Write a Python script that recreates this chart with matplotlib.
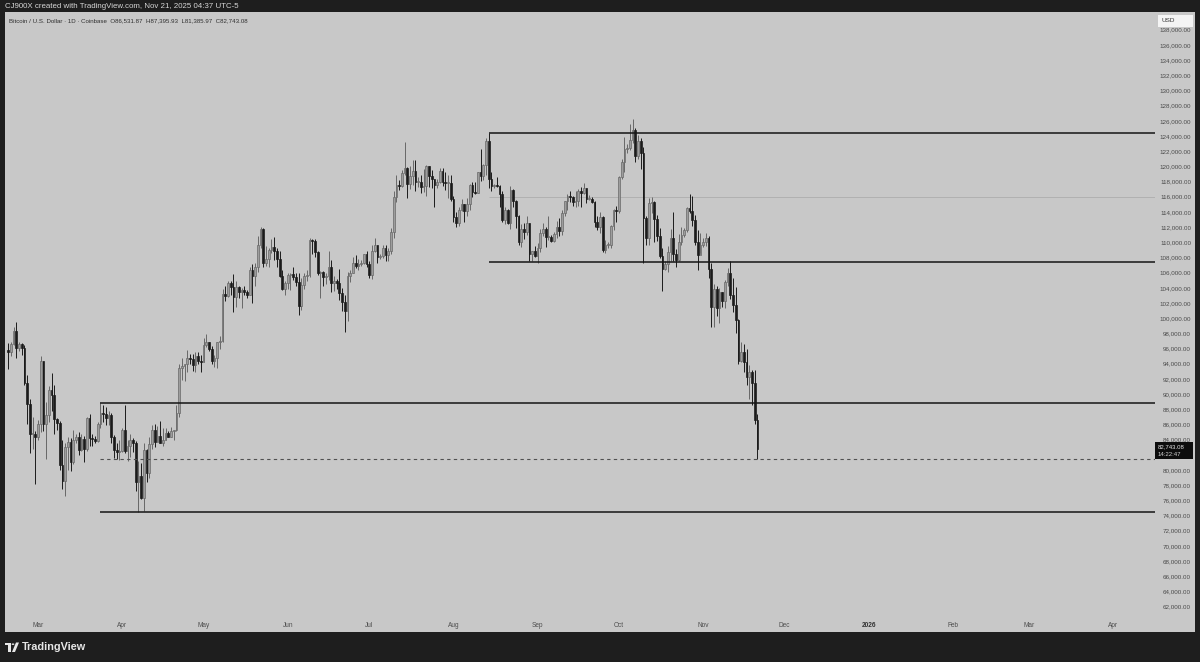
import numpy as np
import pandas as pd
import matplotlib
matplotlib.use('Agg')
import matplotlib.pyplot as plt
import matplotlib.dates as mdates
import matplotlib.transforms as mtrans
from matplotlib.patches import Rectangle, Polygon, Circle

plt.rcParams['font.family'] = ['Liberation Sans', 'DejaVu Sans']

# --- data: BTC/USD daily candles, Coinbase, 2025-02-18 .. 2025-11-21 (thousands USD) ---
start_day = '2025-02-18'
first_open = 95.8

closes = [
    95.6, 96.6, 98.3, 96.1, 96.6, 96.1, 91.5, 88.7, 84.7, 84.7, 84.4,  # feb
    86.0, 94.3, 86.1, 87.2, 90.6, 89.9, 86.7, 86.2, 80.7, 78.5,  # mar
    83.0, 83.7, 81.1, 84.0, 84.4, 82.6, 84.1, 82.7, 86.8, 84.2,
    84.1, 83.8, 86.1, 87.5, 87.4, 86.9, 87.2, 84.3, 82.6, 82.4, 82.5,
    85.2, 82.5, 83.1, 83.9, 83.5, 78.4, 79.2, 76.3, 82.6, 79.6,  # apr
    83.4, 85.3, 83.7, 84.5, 83.6, 84.0, 84.9, 84.4, 85.1, 85.2,
    87.5, 93.4, 93.7, 93.9, 94.7, 94.6, 93.8, 95.0, 94.3, 94.2,
    96.5, 96.9, 95.9, 94.3, 94.7, 96.8, 97.0, 103.2, 102.9, 104.6,  # may
    104.1, 102.8, 104.1, 103.5, 103.7, 103.5, 103.1, 106.4, 105.6, 106.8,
    109.7, 111.7, 107.3, 107.8, 109.0, 109.4, 108.9, 107.8, 105.6, 103.9, 104.6,
    105.7, 105.8, 105.4, 104.7, 101.6, 104.4, 105.6, 105.7, 110.3, 110.2,  # jun
    108.7, 105.9, 106.1, 105.4, 105.6, 106.8, 104.6, 104.9, 104.6, 103.3,
    102.1, 100.9, 105.6, 106.0, 107.3, 106.9, 107.1, 107.3, 108.4, 107.2,
    105.7, 108.8, 109.6, 108.0, 108.2, 109.2, 108.3, 108.9, 111.3, 115.9,  # jul
    117.5, 117.4, 119.1, 119.8, 117.7, 118.7, 119.4, 117.9, 117.9, 117.3,
    117.4, 120.0, 118.7, 118.3, 117.6, 117.9, 119.4, 118.0, 117.8, 117.8, 115.7,
    113.3, 112.5, 114.2, 115.0, 114.1, 115.0, 117.5, 116.6, 116.5, 119.3,  # aug
    118.7, 120.2, 123.3, 118.3, 117.4, 117.5, 117.4, 116.3, 112.9, 114.3,
    112.5, 116.9, 115.4, 113.5, 110.1, 111.8, 111.3, 112.6, 108.4, 108.8, 108.2,
    109.2, 111.2, 111.7, 110.7, 110.7, 110.2, 111.1, 112.0, 111.5, 113.9,  # sep
    115.5, 116.1, 115.9, 115.3, 115.4, 116.8, 116.5, 117.1, 115.7, 115.7,
    115.3, 112.7, 112.0, 113.3, 109.0, 109.7, 109.7, 112.1, 114.3, 114.1,
    118.6, 120.6, 122.3, 122.4, 123.5, 124.8, 121.4, 123.3, 121.7, 113.2,  # oct
    110.6, 115.2, 115.3, 113.1, 110.8, 108.2, 106.5, 107.2, 108.7, 110.6,
    108.5, 107.6, 110.1, 111.0, 111.6, 114.5, 114.1, 112.9, 110.1, 108.3, 109.6,
    110.1, 110.6, 106.5, 101.5, 103.9, 101.3, 103.4, 102.3, 104.7, 106.0,  # nov
    103.0, 101.7, 99.7, 94.4, 95.6, 94.2, 92.2, 92.9, 91.5, 86.53187,
    82.74308,
]

highs = [
    96.7, 96.9, 98.8, 99.5, 96.9, 96.7, 96.5, 92.5, 89.3, 87.0, 85.1,  # feb
    86.6, 95.0, 94.4, 88.9, 91.0, 92.8, 91.2, 86.9, 86.5, 83.9,  # mar
    83.6, 84.3, 84.2, 85.2, 84.7, 85.0, 84.7, 84.5, 87.0, 87.4,
    84.8, 84.5, 86.3, 88.8, 88.5, 88.3, 87.8, 87.5, 84.6, 83.5, 83.9,
    85.5, 88.5, 83.9, 84.7, 84.2, 83.8, 81.2, 80.9, 83.6, 82.7,  # apr
    84.3, 85.9, 86.0, 85.8, 86.5, 85.5, 85.5, 85.1, 85.6, 85.3,
    88.5, 93.9, 94.7, 94.0, 95.8, 95.3, 95.3, 95.6, 95.5, 95.2,
    97.4, 97.9, 96.9, 96.3, 95.2, 96.9, 97.7, 103.9, 104.3, 104.9,  # may
    104.9, 105.8, 104.9, 104.3, 104.0, 104.2, 103.7, 106.7, 107.1, 107.3,
    110.8, 112.0, 111.9, 109.5, 109.3, 110.4, 110.7, 109.3, 108.9, 106.3, 104.9,
    105.9, 105.9, 106.8, 106.0, 105.9, 105.3, 105.9, 106.4, 110.5, 110.4,  # jun
    110.4, 108.8, 106.2, 106.2, 105.9, 108.9, 107.7, 105.5, 105.2, 106.5,
    104.0, 103.0, 106.1, 106.3, 108.1, 108.3, 107.8, 107.6, 108.5, 108.8,
    107.5, 109.7, 110.5, 109.7, 108.4, 109.6, 109.7, 109.2, 111.9, 116.8,  # jul
    118.9, 118.2, 119.5, 123.2, 119.9, 120.0, 120.8, 120.9, 118.6, 118.8,
    119.7, 120.2, 120.1, 119.5, 118.4, 118.4, 119.8, 119.8, 119.3, 118.8, 118.9,
    116.1, 114.0, 114.7, 115.7, 115.1, 115.8, 117.7, 117.9, 117.9, 119.3,  # aug
    122.3, 120.3, 123.7, 124.4, 119.2, 117.7, 118.6, 117.6, 116.8, 114.6,
    114.4, 117.4, 117.0, 115.6, 113.6, 112.4, 112.6, 113.5, 112.6, 108.9, 109.5,
    109.9, 111.8, 112.6, 112.0, 113.4, 111.0, 111.3, 112.8, 113.2, 114.3,  # sep
    115.5, 116.3, 116.7, 116.1, 116.8, 117.0, 117.3, 117.8, 117.2, 116.2,
    115.9, 115.4, 113.4, 114.0, 113.4, 110.3, 110.0, 112.3, 114.4, 114.8,
    118.7, 121.0, 123.9, 122.9, 125.6, 126.2, 125.0, 124.1, 123.8, 122.5,  # oct
    113.5, 115.8, 115.9, 115.4, 113.6, 111.9, 109.3, 107.5, 109.5, 111.7,
    114.0, 109.1, 111.1, 112.0, 111.9, 114.6, 116.4, 116.1, 113.6, 111.6, 111.2,
    110.6, 111.2, 110.8, 107.3, 104.5, 104.2, 104.0, 103.5, 105.0, 106.6,  # nov
    107.5, 105.3, 104.1, 99.9, 96.8, 96.6, 96.0, 93.8, 93.2, 93.2,
    87.39593,
]

lows = [
    93.3, 95.0, 96.4, 94.8, 95.7, 95.2, 91.2, 86.1, 82.3, 82.8, 78.2,  # feb
    83.9, 85.0, 85.1, 81.5, 86.3, 87.8, 84.7, 85.3, 80.0, 77.5,  # mar
    76.6, 80.0, 79.9, 80.8, 83.6, 82.0, 82.5, 81.1, 82.5, 83.2,
    83.2, 83.6, 83.7, 85.5, 86.3, 85.9, 85.9, 83.6, 81.6, 81.5, 81.3,
    82.4, 82.3, 81.2, 81.7, 82.4, 77.2, 74.5, 76.2, 74.6, 78.4,  # apr
    78.9, 82.7, 83.0, 83.7, 83.6, 83.1, 83.9, 84.3, 84.4, 83.9,
    85.1, 87.0, 91.9, 91.7, 92.9, 93.9, 93.1, 92.9, 93.9, 92.9,
    94.2, 96.2, 95.7, 93.9, 93.5, 93.4, 95.9, 96.9, 102.3, 102.8,  # may
    103.1, 100.8, 101.5, 102.6, 101.4, 103.1, 102.6, 103.0, 102.0, 104.2,
    106.1, 109.3, 106.8, 106.9, 106.7, 108.6, 107.6, 106.8, 105.4, 103.7, 103.1,
    103.9, 103.7, 105.0, 104.2, 100.4, 101.1, 103.9, 104.9, 105.4, 108.4,  # jun
    108.1, 105.7, 102.7, 104.3, 104.5, 105.0, 103.4, 103.6, 103.9, 102.4,
    101.0, 98.2, 99.6, 104.7, 105.9, 106.6, 106.4, 106.9, 107.2, 106.8,
    105.3, 105.2, 108.7, 107.3, 107.8, 107.9, 107.5, 107.5, 108.4, 110.6,  # jul
    115.3, 116.9, 117.3, 118.9, 115.8, 117.0, 117.5, 116.8, 117.3, 116.5,
    116.6, 116.1, 117.3, 117.2, 114.7, 117.2, 117.8, 117.4, 116.9, 115.8, 115.5,
    112.7, 112.0, 112.2, 114.1, 112.7, 113.4, 114.3, 115.9, 116.3, 116.5,  # aug
    118.1, 118.2, 118.9, 117.2, 116.8, 117.1, 117.3, 114.7, 112.7, 112.4,
    112.4, 111.7, 114.6, 111.9, 109.6, 109.4, 110.4, 110.9, 107.5, 107.5, 108.1,
    107.3, 108.7, 110.8, 109.4, 110.3, 110.0, 110.1, 110.6, 110.8, 110.9,  # sep
    113.5, 114.2, 115.3, 114.8, 114.6, 114.8, 114.7, 116.4, 115.2, 115.6,
    115.2, 112.0, 111.6, 111.2, 108.7, 108.6, 109.2, 109.3, 111.6, 112.7,
    113.9, 118.3, 119.3, 121.7, 122.2, 123.1, 120.6, 121.0, 119.7, 107.3,  # oct
    109.7, 109.6, 113.9, 110.0, 110.2, 107.9, 103.6, 106.4, 106.1, 107.5,
    107.5, 106.7, 107.5, 109.7, 110.7, 111.3, 113.8, 112.2, 109.7, 106.4, 108.6,
    109.4, 109.5, 105.3, 98.9, 98.9, 100.3, 99.3, 101.5, 101.4, 104.3,  # nov
    102.5, 100.8, 98.0, 94.0, 94.2, 92.9, 91.2, 89.3, 88.6, 86.1,
    81.38597,
]

last_ohlc = [86531.87, 87395.93, 81385.97, 82743.08]
last_time = '14:22:47'

# drawn levels
level_prices = [124400, 107400, 88800, 74450]
level_starts = ['2025-08-14', '2025-08-14', '2025-03-24', '2025-03-24']
faint_price, faint_start = 116000, '2025-08-14'
dashed_price, dashed_start = 81500, '2025-03-24'

# price scale labels (82,000 sits under the last-price tag, hidden as on TradingView)
scale_ticks = [t for t in range(62000, 138001, 2000) if t != 82000]

# --- figure layout (pixels of the 1200x662 canvas) ---
W, H = 1200, 662
BG = '#1e1e1e'
PANEL = '#c8c8c8'


def fpos(x, y):
    return x / W, 1 - y / H


fig = plt.figure(figsize=(W / 100, H / 100), dpi=100, facecolor=BG)
fig.add_artist(Rectangle(fpos(5, 632), 1190 / W, 620 / H, transform=fig.transFigure,
                         facecolor=PANEL, edgecolor='none', zorder=-1))

ax = fig.add_axes([5 / W, 30 / H, 1150 / W, 620 / H])
ax.patch.set_visible(False)
for s in ax.spines.values():
    s.set_visible(False)

ref_price, ref_px, usd_per_px = 124000, 136, 131.75
ax.set_ylim(ref_price - (632 - ref_px) * usd_per_px, ref_price + (ref_px - 12) * usd_per_px)

mar1 = mdates.date2num(pd.Timestamp('2025-03-01'))
day_px = 2.715
x_left = mar1 + (5 - 38) / day_px
x_right = mar1 + (1155 - 38) / day_px
ax.set_xlim(x_left, x_right)

# --- candles ---
dates = pd.date_range(start_day, periods=len(closes), freq='D')
x = mdates.date2num(dates)
c = np.array(closes) * 1000
h = np.array(highs) * 1000
l = np.array(lows) * 1000
o = np.concatenate([[first_open * 1000], c[:-1]])
o[-1] = last_ohlc[0]
up = c >= o

up_face, up_edge, dn_col = '#9d9d9d', '#686868', '#1b1b1b'
wick_cols = np.where(up, up_edge, dn_col)
ax.vlines(x, l, h, colors=wick_cols, linewidth=0.7, zorder=2)
body_lo = np.minimum(o, c)
body_h = np.maximum(np.abs(c - o), 120)
ax.bar(x[up], body_h[up], bottom=body_lo[up], width=0.64, color=up_face,
       edgecolor=up_edge, linewidth=0.5, zorder=3)
ax.bar(x[~up], body_h[~up], bottom=body_lo[~up], width=0.64, color=dn_col,
       edgecolor=dn_col, linewidth=0.5, zorder=3)

# --- horizontal levels ---
for p, s in zip(level_prices, level_starts):
    ax.hlines(p, mdates.date2num(pd.Timestamp(s)), x_right, colors='#151515',
              linewidth=1.1, zorder=4)
ax.hlines(faint_price, mdates.date2num(pd.Timestamp(faint_start)), x_right,
          colors='#adadad', linewidth=0.6, zorder=1)
ax.hlines(dashed_price, mdates.date2num(pd.Timestamp(dashed_start)), x_right,
          colors='#505050', linewidth=0.8, linestyles=(0, (3, 3)), zorder=4)

# --- price scale ---
ax.set_yticks(scale_ticks)
ax.set_yticklabels([f'{t:,.2f}' for t in scale_ticks])
ax.yaxis.tick_right()
ax.tick_params(axis='y', length=0, pad=25.9, labelsize=4.5, labelcolor='#4a4a4a')
for t in ax.yaxis.get_major_ticks():
    t.label2.set_horizontalalignment('right')
ax.set_xticks([])

# --- time scale ---
for d in pd.date_range('2025-03-01', '2026-04-01', freq='MS'):
    is_year = d.month == 1
    ax.text(mdates.date2num(d), 0.0097, str(d.year) if is_year else d.strftime('%b'),
            transform=ax.get_xaxis_transform(), ha='center', va='center',
            fontsize=4.7, color='#333333' if is_year else '#4d4d4d',
            fontweight='bold' if is_year else 'normal')

# --- header ---
fig.text(*fpos(5, 6.5), 'CJ900X created with TradingView.com, Nov 21, 2025 04:37 UTC-5',
         fontsize=5.7, color='#d6d6d6', va='center', ha='left')
fig.text(*fpos(9, 20.5),
         'Bitcoin / U.S. Dollar · 1D · Coinbase  O{:,.2f}  H{:,.2f}  L{:,.2f}  C{:,.2f}'.format(*last_ohlc),
         fontsize=4.4, color='#2e2e2e', va='center', ha='left')

# USD box
fig.add_artist(Rectangle(fpos(1158, 27), 35 / W, 12 / H, transform=fig.transFigure,
                         facecolor='#f4f4f4', edgecolor='none', zorder=5))
fig.text(*fpos(1162, 21), 'USD', fontsize=4.6, color='#333333', va='center', ha='left', zorder=6)

# last price label
blend = mtrans.blended_transform_factory(fig.transFigure, ax.transData)
last_close = last_ohlc[3]
fig.add_artist(Rectangle((1155 / W, last_close - 10 * usd_per_px), 38 / W, 17 * usd_per_px,
                         transform=blend, facecolor='#0d0d0d', edgecolor='none', zorder=5))
fig.text(1158 / W, last_close + 2.8 * usd_per_px, f'{last_close:,.2f}', transform=blend,
         fontsize=4.3, color='#e8e8e8', va='center', ha='left', zorder=6)
fig.text(1158 / W, last_close - 5.2 * usd_per_px, last_time, transform=blend,
         fontsize=4.3, color='#d0d0d0', va='center', ha='left', zorder=6)

# --- footer logo ---
def fp_list(pts):
    return [fpos(px, py) for px, py in pts]


fig.add_artist(Polygon(fp_list([(5, 642.5), (11, 642.5), (11, 652), (8.3, 652), (8.3, 645.2), (5, 645.2)]),
                       closed=True, transform=fig.transFigure, facecolor='#e6e6e6', edgecolor='none'))
fig.add_artist(Circle(fpos(13, 644.2), 1.4 / W, transform=fig.transFigure,
                      facecolor='#e6e6e6', edgecolor='none'))
fig.add_artist(Polygon(fp_list([(16, 642.5), (19, 642.5), (15, 652), (12, 652)]),
                       closed=True, transform=fig.transFigure, facecolor='#e6e6e6', edgecolor='none'))
fig.text(*fpos(22, 647.5), 'TradingView', fontsize=7.8, color='#e6e6e6', va='center', ha='left',
         fontweight='bold')

fig.savefig('out.png', dpi=100, facecolor=BG)
